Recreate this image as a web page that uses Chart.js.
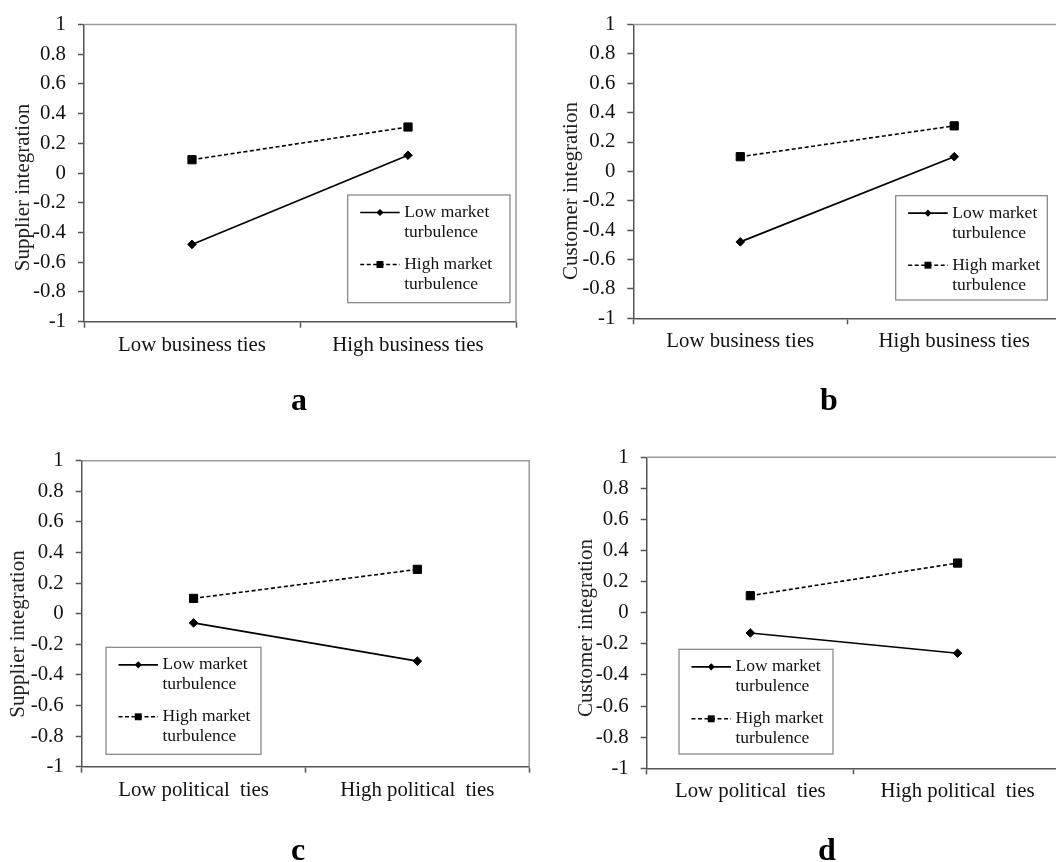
<!DOCTYPE html>
<html>
<head>
<meta charset="utf-8">
<script src="https://cdn.jsdelivr.net/npm/chart.js@4/dist/chart.umd.min.js"></script>
<style>
html,body{margin:0;padding:0;background:#fff;overflow:hidden;width:1056px;height:862px;position:relative;}
canvas{position:absolute;}
.letter{position:absolute;font-family:"Liberation Serif",serif;font-weight:bold;font-size:32px;line-height:32px;color:#000;transform:translateX(-50%);}
</style>
</head>
<body>
<canvas id="ca"></canvas>
<canvas id="cb"></canvas>
<canvas id="cc"></canvas>
<canvas id="cd"></canvas>
<div class="letter" id="la"></div>
<div class="letter" id="lb"></div>
<div class="letter" id="lc"></div>
<div class="letter" id="ld"></div>
<script>
// ---- data ----
const yTickValues = [-1, -0.8, -0.6, -0.4, -0.2, 0, 0.2, 0.4, 0.6, 0.8, 1];
const yTickLabels = ['-1', '-0.8', '-0.6', '-0.4', '-0.2', '0', '0.2', '0.4', '0.6', '0.8', '1'];
const businessTies = ['Low business ties', 'High business ties'];
const politicalTies = ['Low political  ties', 'High political  ties'];
const seriesNames = ['Low market turbulence', 'High market turbulence'];
const legendLines = [['Low market', 'turbulence'], ['High market', 'turbulence']];
const supplierTitle = 'Supplier integration';
const customerTitle = 'Customer integration';
const panelLetters = ['a', 'b', 'c', 'd'];

const aLow = [-0.48, 0.12];
const aHigh = [0.09, 0.31];
const bLow = [-0.48, 0.10];
const bHigh = [0.10, 0.31];
const cLow = [-0.06, -0.31];
const cHigh = [0.10, 0.29];
const dLow = [-0.13, -0.26];
const dHigh = [0.11, 0.32];

// ---- layout (page pixel coordinates) ----
const panels = [
  {id: 'ca', cats: businessTies, low: aLow, high: aHigh, title: supplierTitle,
   canvas: [0, 0, 528, 431], area: [84, 20, 516, 321.7], titlePos: [23.7, 187.5],
   legend: [347.7, 195, 510, 302.7], letter: 'la', letterPos: [299, 409.5]},
  {id: 'cb', cats: businessTies, low: bLow, high: bHigh, title: customerTitle,
   canvas: [528, 0, 540, 431], area: [633.3, 17.3, 1065.3, 318.3], titlePos: [571.7, 191],
   legend: [895.7, 195.7, 1047.3, 300], letter: 'lb', letterPos: [829, 409.5]},
  {id: 'cc', cats: politicalTies, low: cLow, high: cHigh, title: supplierTitle,
   canvas: [0, 431, 536, 431], area: [81.7, 460.7, 530.7, 766.7], titlePos: [18.3, 634],
   legend: [106, 647.3, 261, 754.3], letter: 'lc', letterPos: [298, 860]},
  {id: 'cd', cats: politicalTies, low: dLow, high: dHigh, title: customerTitle,
   canvas: [528, 431, 540, 431], area: [646.7, 457.3, 1066, 768.3], titlePos: [586.7, 628],
   legend: [679, 649.3, 833, 754], letter: 'ld', letterPos: [827, 860]}
];

const SERIF = '"Liberation Serif", "Times New Roman", serif';

// top & right frame of the plot area (lighter gray)
const framePlugin = {
  id: 'frame',
  beforeDatasetsDraw(chart) {
    const {ctx, chartArea: a} = chart;
    ctx.save();
    ctx.strokeStyle = '#9a9a9a';
    ctx.lineWidth = 1.5;
    ctx.beginPath();
    ctx.moveTo(a.left, a.top);
    ctx.lineTo(a.right, a.top);
    ctx.lineTo(a.right, a.bottom);
    ctx.stroke();
    ctx.restore();
  }
};

function marker(ctx, style, r, x, y) {
  ctx.beginPath();
  if (style === 'rect') {
    const s = Math.SQRT1_2 * r;
    ctx.rect(x - s, y - s, 2 * s, 2 * s);
  } else {
    ctx.moveTo(x - r, y);
    ctx.lineTo(x, y - r);
    ctx.lineTo(x + r, y);
    ctx.lineTo(x, y + r);
    ctx.closePath();
  }
  ctx.fill();
}

// boxed legend inside the plot
const boxLegend = {
  id: 'boxLegend',
  afterDatasetsDraw(chart, args, opts) {
    const {ctx} = chart;
    const [x1, y1, x2, y2] = opts.box;
    ctx.save();
    ctx.fillStyle = '#fff';
    ctx.fillRect(x1, y1, x2 - x1, y2 - y1);
    ctx.strokeStyle = '#808080';
    ctx.lineWidth = 1.2;
    ctx.strokeRect(x1, y1, x2 - x1, y2 - y1);
    chart.data.datasets.forEach((ds, i) => {
      const yr = y1 + 17.5 + i * 52;
      const sx1 = x1 + 12.5, sx2 = x1 + 52;
      ctx.strokeStyle = ds.borderColor;
      ctx.lineWidth = ds.borderWidth;
      ctx.setLineDash(ds.borderDash || []);
      ctx.beginPath();
      ctx.moveTo(sx1, yr);
      ctx.lineTo(sx2, yr);
      ctx.stroke();
      ctx.setLineDash([]);
      ctx.fillStyle = '#000';
      marker(ctx, ds.pointStyle, opts.markerRadius[i], (sx1 + sx2) / 2, yr);
      ctx.font = '17.5px ' + SERIF;
      ctx.textAlign = 'left';
      ctx.textBaseline = 'middle';
      ctx.fillStyle = '#111';
      legendLines[i].forEach((t, k) => ctx.fillText(t, x1 + 56.5, yr + k * 20));
    });
    ctx.restore();
  }
};

// rotated y-axis title
const yTitlePlugin = {
  id: 'yTitle',
  afterDraw(chart, args, opts) {
    const {ctx} = chart;
    ctx.save();
    ctx.translate(opts.x, opts.y);
    ctx.rotate(-Math.PI / 2);
    ctx.font = '21px ' + SERIF;
    ctx.fillStyle = '#222';
    ctx.textAlign = 'center';
    ctx.textBaseline = 'middle';
    ctx.fillText(opts.text, 0, 0);
    ctx.restore();
  }
};

panels.forEach((p, idx) => {
  const [cx, cy, cw, ch] = p.canvas;
  const [al, at, ar, ab] = p.area;
  const cv = document.getElementById(p.id);
  cv.width = cw; cv.height = ch;
  cv.style.left = cx + 'px'; cv.style.top = cy + 'px';
  cv.style.width = cw + 'px'; cv.style.height = ch + 'px';
  const yW = al - cx, xH = (cy + ch) - ab;
  const padTop = at - cy, padRight = (cx + cw) - ar;

  new Chart(cv, {
    type: 'line',
    data: {
      labels: p.cats,
      datasets: [
        {label: seriesNames[0], data: p.low, borderColor: '#000', backgroundColor: '#000',
         borderWidth: 1.7, pointStyle: 'rectRot', pointRadius: 4.3, pointBackgroundColor: '#000',
         pointBorderColor: '#000', pointBorderWidth: 1, tension: 0, fill: false},
        {label: seriesNames[1], data: p.high, borderColor: '#000', backgroundColor: '#000',
         borderWidth: 1.6, borderDash: [4, 2.5], pointStyle: 'rect', pointRadius: 5.8,
         pointBackgroundColor: '#000', pointBorderColor: '#000', pointBorderWidth: 1, tension: 0, fill: false}
      ]
    },
    options: {
      responsive: false,
      animation: false,
      devicePixelRatio: 1,
      layout: {padding: {left: 0, top: padTop, right: padRight, bottom: 0}},
      plugins: {
        legend: {display: false},
        tooltip: {enabled: false},
        boxLegend: {box: [p.legend[0] - cx, p.legend[1] - cy, p.legend[2] - cx, p.legend[3] - cy],
                    markerRadius: [3.6, 4.9]},
        yTitle: {text: p.title, x: p.titlePos[0] - cx, y: p.titlePos[1] - cy}
      },
      scales: {
        x: {
          offset: true,
          grid: {display: true, offset: true, drawOnChartArea: false, drawTicks: true,
                 tickLength: 6, tickWidth: 1.5, tickColor: '#555'},
          border: {display: true, color: '#555', width: 1.5},
          ticks: {color: '#111', font: {family: SERIF, size: 20.8}, padding: 5,
                  maxRotation: 0, autoSkip: false},
          afterFit(s) { s.height = xH; }
        },
        y: {
          min: -1, max: 1,
          afterBuildTicks(s) { s.ticks = yTickValues.map(v => ({value: v})); },
          grid: {display: true, drawOnChartArea: false, drawTicks: true,
                 tickLength: 6, tickWidth: 1.5, tickColor: '#555'},
          border: {display: true, color: '#555', width: 1.5},
          ticks: {color: '#111', font: {family: SERIF, size: 20.8}, padding: 12,
                  callback: (v, i) => yTickLabels[i]},
          afterFit(s) { s.width = yW; }
        }
      }
    },
    plugins: [framePlugin, boxLegend, yTitlePlugin]
  });

  const L = document.getElementById(p.letter);
  L.textContent = panelLetters[idx];
  L.style.left = p.letterPos[0] + 'px';
  L.style.top = (p.letterPos[1] - 26.8) + 'px';
});
</script>
</body>
</html>
